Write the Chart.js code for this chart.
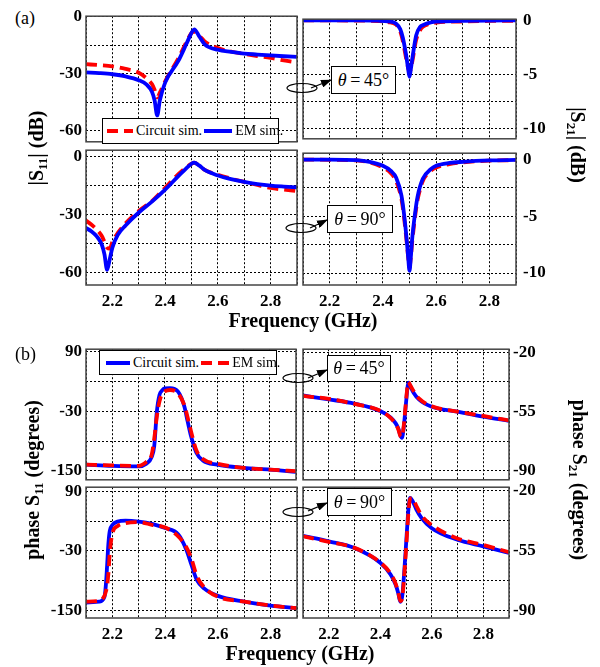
<!DOCTYPE html>
<html>
<head>
<meta charset="utf-8">
<script src="https://cdn.jsdelivr.net/npm/chart.js@4.4.0/dist/chart.umd.min.js"></script>
<style>
  body { margin: 0; background: #fff; }
  #fig { position: relative; width: 600px; height: 667px; overflow: hidden;
         font-family: "Liberation Serif", "Times New Roman", serif; color: #000; }
  canvas { position: absolute; }
  .txt { position: absolute; white-space: nowrap; line-height: 1; }
  .title { font-weight: bold; font-size: 20px; }
  .rot-l { transform: translate(-50%, -50%) rotate(-90deg); }
  .rot-r { transform: translate(-50%, -50%) rotate(90deg); }
  .center { transform: translate(-50%, -50%); }
  sub { font-size: 13px; vertical-align: -4px; line-height: 0; }
  .tbox { position: absolute; border: 1.5px solid #000; background: #fff; box-sizing: border-box;
          font-size: 18px; display: flex; align-items: center; justify-content: center; white-space: nowrap; }
  .legend { position: absolute; border: 1px solid #000; background: #fff; box-sizing: border-box;
            font-size: 14px; display: flex; align-items: center; padding-left: 4px; white-space: nowrap; }
  .legend span { margin: 0 2px 0 3px; white-space: nowrap; }
  .legend svg { flex: none; }
  #ann { position: absolute; left: 0; top: 0; pointer-events: none; }
</style>
</head>
<body>
<div id="fig"></div>
<script>
// frequency axis, GHz
const freqGrid = [2.1, 2.2, 2.3, 2.4, 2.5, 2.6, 2.7, 2.8, 2.9];
const freqLabels = [2.2, 2.4, 2.6, 2.8];

// y ticks (grid lines) and the ones that carry labels
const s11MagGrid = [0, -15, -30, -45, -60];
const s11MagLabels = [0, -30, -60];
const s21MagGrid = [0, -2.5, -5, -7.5, -10];
const s21MagLabels = [0, -5, -10];
const s11PhGrid = [90, 30, -30, -90, -150];
const s11PhLabels = [90, -30, -150];
const s21PhGrid = [-20, -37.5, -55, -72.5, -90];
const s21PhLabels = [-20, -55, -90];

// (a) |S11|, theta = 45
const s11m45Freq = [2.10, 2.15, 2.20, 2.25, 2.30, 2.33, 2.35, 2.36, 2.37, 2.38, 2.40, 2.45, 2.48, 2.50, 2.51, 2.53, 2.55, 2.60, 2.65, 2.70, 2.75, 2.80, 2.85, 2.90];
const s11m45Em = [-29.3, -29.7, -30.3, -31.4, -33.4, -35.8, -39.5, -44, -52, -44, -34.7, -23.3, -14.5, -8.5, -6.6, -10.5, -14.5, -17.4, -18.5, -19.4, -19.9, -20.4, -20.8, -21.1];
const s11m45Circuit = [-25, -25.5, -26.1, -27.5, -29.5, -32.5, -35.5, -38.5, -42.5, -40, -34, -22, -13.5, -8.5, -7.8, -10, -13, -16.5, -18.3, -19.6, -20.7, -21.7, -23.0, -24.1];

// (a) |S11|, theta = 90
const s11m90Freq = [2.10, 2.12, 2.14, 2.16, 2.17, 2.18, 2.19, 2.20, 2.22, 2.25, 2.30, 2.35, 2.40, 2.45, 2.48, 2.50, 2.51, 2.53, 2.55, 2.60, 2.65, 2.70, 2.75, 2.80, 2.85, 2.90];
const s11m90Em = [-36.8, -38.5, -41, -45.5, -50.5, -58.5, -53, -47, -40.5, -35.5, -28.8, -23.2, -17, -10, -6, -3.6, -3.0, -4.6, -6.8, -9.7, -11.6, -13, -14.1, -14.9, -15.4, -15.8];
const s11m90Circuit = [-33, -35, -37.5, -41, -44, -47, -47.5, -44, -39.5, -34.4, -28, -22.9, -16, -9, -5.5, -3.6, -3.1, -4.6, -6.8, -9.3, -11.3, -13, -14.6, -16.1, -17, -17.8];

// (a) |S21|, theta = 45
const s21m45Freq = [2.10, 2.20, 2.30, 2.38, 2.42, 2.45, 2.465, 2.475, 2.488, 2.495, 2.50, 2.505, 2.512, 2.525, 2.54, 2.55, 2.57, 2.60, 2.70, 2.80, 2.90];
const s21m45Em = [0, 0, 0, -0.03, -0.1, -0.3, -0.8, -1.6, -3.3, -4.5, -5.2, -4.5, -3.3, -1.4, -0.6, -0.45, -0.25, -0.12, -0.05, -0.02, 0];
const s21m45Circuit = [0, 0, -0.02, -0.06, -0.15, -0.4, -1.0, -1.9, -3.6, -4.4, -4.8, -4.5, -3.6, -1.8, -0.9, -0.6, -0.35, -0.2, -0.1, -0.05, -0.03];

// (a) |S21|, theta = 90
const s21m90Freq = [2.10, 2.20, 2.30, 2.35, 2.40, 2.43, 2.45, 2.47, 2.48, 2.49, 2.495, 2.50, 2.505, 2.51, 2.52, 2.53, 2.55, 2.58, 2.60, 2.65, 2.70, 2.80, 2.90];
const s21m90Em = [0, 0, -0.05, -0.2, -0.55, -1.0, -1.6, -3.2, -4.9, -7.2, -8.6, -9.8, -8.6, -7.0, -4.9, -3.3, -1.7, -0.85, -0.55, -0.3, -0.2, -0.08, -0.03];
const s21m90Circuit = [0, -0.02, -0.08, -0.25, -0.7, -1.2, -1.9, -3.5, -5.2, -7.4, -8.6, -9.5, -8.6, -7.3, -5.2, -3.6, -1.9, -1.0, -0.7, -0.4, -0.25, -0.1, -0.05];

// (b) phase S11, theta = 45
const s11p45Freq = [2.10, 2.20, 2.30, 2.33, 2.35, 2.36, 2.37, 2.38, 2.39, 2.40, 2.42, 2.45, 2.475, 2.487, 2.50, 2.52, 2.545, 2.60, 2.70, 2.80, 2.90];
const s11p45Circuit = [-137.6, -140, -141, -135.6, -122.5, -100, -30, 3, 12, 16, 16.7, 10, -21, -50, -80, -113, -129, -137.6, -144, -147.4, -152];
const s11p45Em = [-137.6, -139, -140, -132, -118, -85, -40, -10, 5, 10, 12.8, 6, -18, -42, -70, -108, -126, -135.6, -144, -147.4, -150.6];

// (b) phase S11, theta = 90
const s11p90Freq = [2.10, 2.15, 2.17, 2.175, 2.18, 2.185, 2.19, 2.20, 2.22, 2.25, 2.30, 2.35, 2.40, 2.45, 2.48, 2.50, 2.52, 2.55, 2.60, 2.70, 2.80, 2.90];
const s11p90Circuit = [-133.6, -131.6, -122, -100, -60, -15, 10, 22, 29, 31, 29, 24.4, 16, 3, -27, -58, -88, -106, -120, -131.6, -139.5, -144.8];
const s11p90Em = [-131.6, -130, -120, -112, -100, -75, -35, 5, 20, 25.7, 27.7, 22.5, 17, -1, -22, -46, -80, -104, -121.8, -131.6, -139.5, -144.8];

// (b) phase S21, theta = 45
const s21p45Freq = [2.10, 2.20, 2.30, 2.40, 2.44, 2.46, 2.47, 2.478, 2.484, 2.49, 2.50, 2.505, 2.509, 2.515, 2.53, 2.55, 2.60, 2.70, 2.80, 2.90];
const s21p45Circuit = [-45.5, -47.8, -50.3, -54.7, -58.5, -62, -65, -69, -70.5, -66, -50, -42, -37.9, -39.5, -44, -47.8, -52.2, -55.1, -58, -60.5];
const s21p45Em = [-45.7, -47.5, -50.5, -54.5, -58.8, -62.5, -65.5, -69.5, -70, -65, -49, -41, -37.5, -39, -43, -47.2, -51.8, -55, -57.6, -60.3];

// (b) phase S21, theta = 90
const s21p90Freq = [2.10, 2.20, 2.30, 2.40, 2.44, 2.46, 2.47, 2.478, 2.485, 2.49, 2.50, 2.51, 2.516, 2.525, 2.54, 2.56, 2.60, 2.70, 2.80, 2.90];
const s21p90Circuit = [-46.5, -49.7, -53.6, -62.2, -69, -75, -80, -85, -82, -74, -52, -30, -24.4, -26, -31, -36, -42, -48.8, -52.6, -56.4];
const s21p90Em = [-46.8, -50, -53.5, -62, -68.5, -74.5, -79.5, -84.5, -83, -76, -55, -32, -25, -24.5, -29, -34.5, -40.2, -48, -51.8, -56];

const BLUE = '#0000ff';
const RED = '#ff0000';
const tickFont = { family: 'Liberation Serif', size: 17, weight: 'bold' };

const fig = document.getElementById('fig');

// box around each plotting area
const framePlugin = {
  id: 'frame',
  afterDraw(chart) {
    const { ctx, chartArea: a } = chart;
    ctx.save();
    ctx.strokeStyle = '#444';
    ctx.lineWidth = 1.5;
    ctx.strokeRect(a.left, a.top, a.right - a.left, a.bottom - a.top);
    ctx.restore();
  }
};

function line(freq, vals, color, dashed) {
  return {
    data: freq.map((f, i) => ({ x: f, y: vals[i] })),
    borderColor: color,
    borderWidth: 3.8,
    borderDash: dashed ? [11, 6] : [],
    pointRadius: 0,
    cubicInterpolationMode: 'monotone',
    fill: false
  };
}

// rect = [left, top, right, bottom] of the plotting area in page pixels
function makePanel(rect, o) {
  const left = o.side === 'left';
  const padTop = 12;
  const padBot = o.xLabels ? 0 : 12;
  const axisW = left ? 46 : 52;
  const xAxisH = o.xLabels ? 30 : 0;
  const outer = 8;
  const w = rect[2] - rect[0], h = rect[3] - rect[1];
  const canvas = document.createElement('canvas');
  canvas.width = w + axisW + outer;
  canvas.height = h + padTop + padBot + xAxisH;
  canvas.style.left = (left ? rect[0] - axisW : rect[0] - outer) + 'px';
  canvas.style.top = (rect[1] - padTop) + 'px';
  fig.appendChild(canvas);

  const gridOpts = { color: '#000', lineWidth: 1, drawTicks: false };
  const borderOpts = { display: false, dash: [2, 2] };

  new Chart(canvas, {
    type: 'line',
    data: { datasets: o.datasets },
    options: {
      responsive: false,
      animation: false,
      devicePixelRatio: 1,
      layout: { padding: { top: padTop, bottom: padBot, left: left ? 0 : outer, right: left ? outer : 0 } },
      plugins: { legend: { display: false }, tooltip: { enabled: false } },
      scales: {
        x: {
          type: 'linear', min: 2.1, max: 2.9,
          afterBuildTicks: s => { s.ticks = freqGrid.map(v => ({ value: v })); },
          afterFit: s => { s.height = xAxisH; },
          ticks: {
            display: o.xLabels, autoSkip: false, maxRotation: 0, padding: 6,
            color: '#000', font: tickFont,
            callback: v => freqLabels.includes(+v.toFixed(1)) ? v.toFixed(1) : ''
          },
          grid: gridOpts,
          border: borderOpts
        },
        y: {
          type: 'linear', position: o.side, min: o.yMin, max: o.yMax,
          afterBuildTicks: s => { s.ticks = o.grid.map(v => ({ value: v })); },
          afterFit: s => { s.width = axisW; },
          ticks: {
            autoSkip: false, padding: o.tickPad, color: '#000', font: tickFont,
            callback: v => o.labels.includes(v) ? String(v) : ''
          },
          grid: gridOpts,
          border: borderOpts
        }
      }
    },
    plugins: [framePlugin]
  });
}

// (a) magnitudes: EM sim. (blue) drawn over circuit sim. (red dashed)
makePanel([86, 14, 297, 144], {
  side: 'left', xLabels: false, yMin: -65.9, yMax: 0.3, grid: s11MagGrid, labels: s11MagLabels, tickPad: 4,
  datasets: [line(s11m45Freq, s11m45Em, BLUE), line(s11m45Freq, s11m45Circuit, RED, true)]
});
makePanel([303, 14, 516, 144], {
  side: 'right', xLabels: false, yMin: -10.93, yMax: 0.11, grid: s21MagGrid, labels: s21MagLabels, tickPad: 7,
  datasets: [line(s21m45Freq, s21m45Em, BLUE), line(s21m45Freq, s21m45Circuit, RED, true)]
});
makePanel([86, 148, 297, 285], {
  side: 'left', xLabels: true, yMin: -66.3, yMax: 3.4, grid: s11MagGrid, labels: s11MagLabels, tickPad: 4,
  datasets: [line(s11m90Freq, s11m90Em, BLUE), line(s11m90Freq, s11m90Circuit, RED, true)]
});
makePanel([303, 148, 516, 285], {
  side: 'right', xLabels: true, yMin: -11.05, yMax: 0.56, grid: s21MagGrid, labels: s21MagLabels, tickPad: 7,
  datasets: [line(s21m90Freq, s21m90Em, BLUE), line(s21m90Freq, s21m90Circuit, RED, true)]
});

// (b) phases: EM sim. (red dashed) drawn over circuit sim. (blue)
makePanel([86, 347, 296, 482], {
  side: 'left', xLabels: false, yMin: -168, yMax: 95, grid: s11PhGrid, labels: s11PhLabels, tickPad: 4,
  datasets: [line(s11p45Freq, s11p45Em, RED, true), line(s11p45Freq, s11p45Circuit, BLUE)]
});
makePanel([303, 347, 509, 482], {
  side: 'right', xLabels: false, yMin: -95.4, yMax: -18.1, grid: s21PhGrid, labels: s21PhLabels, tickPad: 4,
  datasets: [line(s21p45Freq, s21p45Em, RED, true), line(s21p45Freq, s21p45Circuit, BLUE)]
});
makePanel([86, 485, 297, 618], {
  side: 'left', xLabels: true, yMin: -164.4, yMax: 97.9, grid: s11PhGrid, labels: s11PhLabels, tickPad: 4,
  datasets: [line(s11p90Freq, s11p90Em, RED, true), line(s11p90Freq, s11p90Circuit, BLUE)]
});
makePanel([303, 485, 509, 618], {
  side: 'right', xLabels: true, yMin: -94.4, yMax: -18.1, grid: s21PhGrid, labels: s21PhLabels, tickPad: 4,
  datasets: [line(s21p90Freq, s21p90Em, RED, true), line(s21p90Freq, s21p90Circuit, BLUE)]
});

// text, legends and the theta call-outs
fig.insertAdjacentHTML('beforeend', `
  <div class="txt" style="left:15px;top:9px;font-size:18px">(a)</div>
  <div class="txt" style="left:15px;top:345px;font-size:18px">(b)</div>

  <div class="txt title rot-l" style="left:36px;top:148px">|S<sub>11</sub>| (dB)</div>
  <div class="txt title rot-r" style="left:578px;top:145px">|S<sub>21</sub>| (dB)</div>
  <div class="txt title rot-l" style="left:32px;top:480px">phase S<sub>11</sub> (degrees)</div>
  <div class="txt title rot-r" style="left:580px;top:480px">phase S<sub>21</sub> (degrees)</div>
  <div class="txt title center" style="left:303px;top:320px">Frequency (GHz)</div>
  <div class="txt title center" style="left:300px;top:653px">Frequency (GHz)</div>

  <div class="legend" style="left:102px;top:118px;width:177px;height:26px">
    <svg width="26" height="8"><line x1="0" y1="4" x2="26" y2="4" stroke="${RED}" stroke-width="4" stroke-dasharray="11,6"/></svg>
    <span>Circuit sim.</span>
    <svg width="28" height="8"><line x1="0" y1="4" x2="28" y2="4" stroke="${BLUE}" stroke-width="4"/></svg>
    <span>EM sim.</span>
  </div>
  <div class="legend" style="left:99px;top:350px;width:178px;height:25px">
    <svg width="26" height="8"><line x1="2" y1="4" x2="26" y2="4" stroke="${BLUE}" stroke-width="4"/></svg>
    <span>Circuit sim.</span>
    <svg width="28" height="8"><line x1="0" y1="4" x2="28" y2="4" stroke="${RED}" stroke-width="4" stroke-dasharray="11,6"/></svg>
    <span>EM sim.</span>
  </div>

  <svg id="ann" width="600" height="667">
    <defs>
      <marker id="ah" markerWidth="11" markerHeight="8" refX="10" refY="4" orient="auto" markerUnits="userSpaceOnUse">
        <path d="M0,0 L11,4 L0,8 z" fill="#000"/>
      </marker>
    </defs>
    <ellipse cx="302" cy="88" rx="15" ry="4.5" fill="none" stroke="#000" stroke-width="1.2"/>
    <line x1="311" y1="88" x2="331" y2="80" stroke="#000" stroke-width="1.3" marker-end="url(#ah)"/>
    <ellipse cx="301" cy="228" rx="15" ry="4.5" fill="none" stroke="#000" stroke-width="1.2"/>
    <line x1="310" y1="228" x2="327" y2="220" stroke="#000" stroke-width="1.3" marker-end="url(#ah)"/>
    <ellipse cx="298" cy="378" rx="15" ry="4.5" fill="none" stroke="#000" stroke-width="1.2"/>
    <line x1="308" y1="378" x2="327" y2="370" stroke="#000" stroke-width="1.3" marker-end="url(#ah)"/>
    <ellipse cx="298" cy="512" rx="15" ry="4.5" fill="none" stroke="#000" stroke-width="1.2"/>
    <line x1="308" y1="511" x2="327" y2="503" stroke="#000" stroke-width="1.3" marker-end="url(#ah)"/>
  </svg>

  <div class="tbox" style="left:331px;top:66px;width:65px;height:28px"><i>θ</i>&thinsp;=&thinsp;45°</div>
  <div class="tbox" style="left:327px;top:205px;width:66px;height:28px"><i>θ</i>&thinsp;=&thinsp;90°</div>
  <div class="tbox" style="left:327px;top:355px;width:64px;height:27px"><i>θ</i>&thinsp;=&thinsp;45°</div>
  <div class="tbox" style="left:327px;top:488px;width:65px;height:28px"><i>θ</i>&thinsp;=&thinsp;90°</div>
`);
</script>
</body>
</html>
